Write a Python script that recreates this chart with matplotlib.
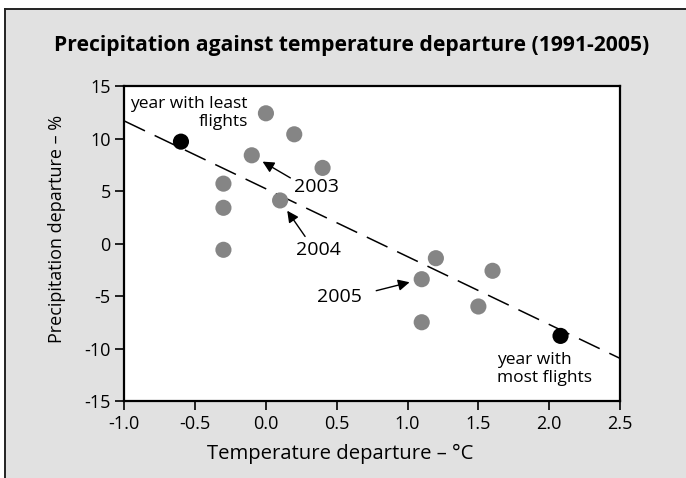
import matplotlib
matplotlib.use("Agg")
import matplotlib.pyplot as plt
from matplotlib.patches import Rectangle
from matplotlib.lines import Line2D

# ---- data ----
temp_gray = [0.0, 0.2, -0.1, 0.4, -0.3, -0.3, 0.1, -0.3, 1.2, 1.1, 1.6, 1.5, 1.1]
precip_gray = [12.4, 10.4, 8.4, 7.2, 5.7, 3.4, 4.1, -0.6, -1.4, -3.4, -2.6, -6.0, -7.5]
temp_black = [-0.6, 2.08]
precip_black = [9.7, -8.8]
trend_x = [-1.0, 2.5]
trend_y = [11.67, -10.94]
x_ticks = [-1.0, -0.5, 0.0, 0.5, 1.0, 1.5, 2.0, 2.5]
x_tick_labels = ["-1.0", "-0.5", "0.0", "0.5", "1.0", "1.5", "2.0", "2.5"]
y_ticks = [-15, -10, -5, 0, 5, 10, 15]
y_tick_labels = ["-15", "-10", "-5", "0", "5", "10", "15"]

title = "Precipitation against temperature departure (1991-2005)"
xlabel = "Temperature departure \u2013 \u00b0C"
ylabel = "Precipitation departure \u2013 %"

FONT = ["Open Sans", "DejaVu Sans"]
plt.rcParams["font.family"] = FONT

W, H = 686, 478
fig = plt.figure(figsize=(W / 100, H / 100), dpi=100)
fig.patch.set_facecolor("white")

# outer grey panel with border on top/left
bx, by = 5 / W, 1 - 9 / H
fig.patches.append(Rectangle((bx, 0), 1 - bx, by, transform=fig.transFigure,
                             facecolor="#e1e1e1", edgecolor="none", zorder=-10))
fig.lines.append(Line2D([bx, bx], [0, by], transform=fig.transFigure,
                        color="#222222", lw=1.4, zorder=-9))
fig.lines.append(Line2D([bx, 1], [by, by], transform=fig.transFigure,
                        color="#222222", lw=1.4, zorder=-9))

ax = fig.add_axes([124.3 / W, 1 - 401 / H, (620 - 124.3) / W, (401 - 86) / H])
ax.set_zorder(5)
ax.set_facecolor("white")
ax.set_xlim(-1.0, 2.5)
ax.set_ylim(-15, 15)

ax.plot(trend_x, trend_y, color="black", lw=1.1, dashes=(15, 7), zorder=2)
ax.scatter(temp_gray, precip_gray, s=135, color="#858585", edgecolors="none", zorder=3)
ax.scatter(temp_black, precip_black, s=135, color="black", edgecolors="none", zorder=3)

ax.set_xticks(x_ticks)
ax.set_xticklabels(x_tick_labels)
ax.set_yticks(y_ticks)
ax.set_yticklabels(y_tick_labels)
for s in ax.spines.values():
    s.set_linewidth(1.6)
    s.set_color("black")
ax.tick_params(direction="out", length=6.8, width=1.2, labelsize=13, pad=3, color="black")

ax.set_xlabel(xlabel, fontsize=14.6)
ax.xaxis.set_label_coords(0.435, -0.135)
ax.set_ylabel(ylabel, fontsize=13)
ax.yaxis.set_label_coords(-0.118, 0.546)

fig.text(352 / W, 1 - 45 / H, title, ha="center", va="center", fontsize=15.2,
         fontweight="bold")

ann_fs = 12.5
num_fs = 14
arrow = dict(arrowstyle="-|>", color="black", lw=1.0, mutation_scale=17,
             shrinkA=0, shrinkB=9)

# 2003
p = (temp_gray[2], precip_gray[2])
ax.annotate("", xy=p, xytext=(38.6, -22.6), textcoords="offset pixels", arrowprops=arrow)
ax.annotate("2003", xy=p, xytext=(42.6, -32), textcoords="offset pixels",
            ha="left", va="center", fontsize=num_fs)
# 2004
p = (temp_gray[6], precip_gray[6])
ax.annotate("", xy=p, xytext=(25, -36), textcoords="offset pixels", arrowprops=arrow)
ax.annotate("2004", xy=p, xytext=(16, -49.5), textcoords="offset pixels",
            ha="left", va="center", fontsize=num_fs)
# 2005
p = (temp_gray[9], precip_gray[9])
ax.annotate("", xy=p, xytext=(-45.5, -11.5), textcoords="offset pixels", arrowprops=arrow)
ax.annotate("2005", xy=p, xytext=(-59.5, -17.8), textcoords="offset pixels",
            ha="right", va="center", fontsize=num_fs)
# least / most
ax.annotate("year with least\nflights", xy=(temp_black[0], precip_black[0]),
            xytext=(67, 28.8), textcoords="offset pixels", ha="right", va="center",
            multialignment="right", fontsize=ann_fs, linespacing=1.15)
ax.annotate("year with\nmost flights", xy=(temp_black[1], precip_black[1]),
            xytext=(-63.4, -32.8), textcoords="offset pixels", ha="left", va="center",
            multialignment="left", fontsize=ann_fs, linespacing=1.15)

fig.savefig("out.png", dpi=100)
